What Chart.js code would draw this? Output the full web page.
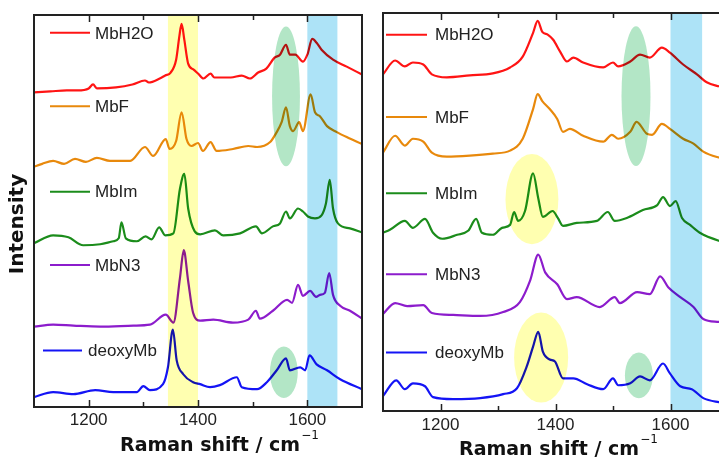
<!DOCTYPE html>
<html>
<head>
<meta charset="utf-8">
<script src="https://cdn.jsdelivr.net/npm/chart.js@4.4.0/dist/chart.umd.min.js"></script>
<style>
  body { margin: 0; background: #fff; overflow: hidden; width: 719px; height: 460px; position: relative; }
  #leftChart { position: absolute; left: 0; top: 0; }
  #rightChart { position: absolute; left: 370px; top: 0; }
</style>
</head>
<body>
<canvas id="leftChart" width="370" height="460"></canvas>
<canvas id="rightChart" width="370" height="460"></canvas>
<script>
// spectra: [Raman shift (cm-1), offset intensity]
const labels = ["MbH2O", "MbF", "MbIm", "MbN3", "deoxyMb"];
const colors = ["#ff1414", "#e8890c", "#1b8c1b", "#8c1ccc", "#1414f5"];
const xTicks = [1200, 1400, 1600];
const xTickMarks = [1200, 1300, 1400, 1500, 1600];

// left panel
const leftH2O = [[1100,317],[1130,318],[1160,319],[1180,319],[1200,321],[1208,325],[1215,321],[1250,322],[1280,325],[1303,329],[1310,327],[1330,331],[1340,334],[1350,337],[1360,350],[1366,374],[1370,386],[1375,370],[1382,346],[1392,340],[1400,336],[1410,331],[1423,336],[1430,332],[1460,332],[1480,334],[1495,331],[1510,337],[1525,341],[1540,352],[1550,355],[1561,365],[1568,355],[1578,355],[1592,348],[1600,355],[1609,371],[1617,367],[1626,360],[1647,350],[1672,343],[1700,335]];
const leftF = [[1100,242],[1115,245],[1135,248],[1155,245],[1175,250],[1195,247],[1215,251],[1239,248],[1276,248],[1303,262],[1318,253],[1341,270],[1348,260],[1360,268],[1370,297],[1379,270],[1388,263],[1400,266],[1409,258],[1423,267],[1434,258],[1464,260],[1492,263],[1508,262],[1532,267],[1544,277],[1553,287],[1561,302],[1568,283],[1574,278],[1585,287],[1592,278],[1606,315],[1614,297],[1623,293],[1636,283],[1654,277],[1672,272],[1700,265]];
const leftIm = [[1100,165],[1135,173],[1163,171],[1190,163],[1221,164],[1245,167],[1255,170],[1260,186],[1268,170],[1288,167],[1304,172],[1315,169],[1329,181],[1340,173],[1355,175],[1367,220],[1375,235],[1382,200],[1394,177],[1404,174],[1431,178],[1446,173],[1477,175],[1506,182],[1517,175],[1537,182],[1550,185],[1561,197],[1568,190],[1583,200],[1592,197],[1601,192],[1614,190],[1626,193],[1634,205],[1641,229],[1647,200],[1656,185],[1678,180],[1700,176]];
const leftN3 = [[1100,81],[1135,83],[1172,82],[1221,81],[1282,82],[1312,83],[1341,93],[1355,85],[1367,130],[1374,158],[1382,127],[1391,95],[1404,87],[1428,88],[1464,85],[1492,88],[1506,97],[1513,89],[1537,97],[1563,108],[1572,105],[1583,123],[1592,112],[1605,117],[1616,111],[1623,113],[1632,115],[1640,135],[1647,113],[1660,102],[1678,97],[1700,89]];
const leftDeoxy = [[1100,10],[1135,15],[1172,13],[1212,17],[1245,15],[1288,15],[1300,21],[1312,17],[1336,23],[1345,40],[1354,78],[1361,47],[1373,33],[1391,25],[1404,23],[1422,20],[1440,22],[1471,30],[1480,20],[1508,18],[1526,25],[1544,37],[1561,49],[1568,37],[1587,40],[1596,37],[1604,52],[1617,43],[1636,37],[1660,28],[1700,18]];

// right panel
const rightH2O = [[1100,340],[1121,354],[1138,348],[1152,352],[1170,350],[1185,340],[1211,337],[1251,339],[1291,341],[1321,347],[1343,358],[1361,382],[1369,394],[1377,383],[1387,380],[1396,375],[1408,363],[1420,353],[1431,357],[1448,352],[1483,347],[1500,352],[1509,348],[1530,353],[1547,360],[1564,357],[1585,367],[1599,362],[1622,350],[1646,340],[1663,332],[1684,328],[1700,326]];
const rightF = [[1100,261],[1121,278],[1138,268],[1152,275],[1170,272],[1185,261],[1211,257],[1251,258],[1291,260],[1321,263],[1343,275],[1361,305],[1369,320],[1377,313],[1390,305],[1403,295],[1413,282],[1425,285],[1448,278],[1483,272],[1498,279],[1509,275],[1530,282],[1541,292],[1559,280],[1568,279],[1585,290],[1599,285],[1622,275],[1640,270],[1657,262],[1684,256],[1700,254]];
const rightIm = [[1100,180],[1112,183],[1138,192],[1152,185],[1173,194],[1187,180],[1203,174],[1229,178],[1248,182],[1262,194],[1272,180],[1291,178],[1307,185],[1321,188],[1328,201],[1335,192],[1347,202],[1361,240],[1370,215],[1378,196],[1395,202],[1404,195],[1413,187],[1437,190],[1472,192],[1491,201],[1503,192],[1524,195],[1552,203],[1577,208],[1587,216],[1599,207],[1609,212],[1620,195],[1634,188],[1651,180],[1684,172],[1700,170]];
const rightN3 = [[1100,98],[1121,109],[1142,106],[1170,107],[1185,99],[1222,97],[1269,96],[1309,100],[1338,110],[1356,132],[1370,158],[1382,140],[1403,128],[1420,113],[1437,115],[1477,105],[1503,115],[1512,109],[1542,120],[1564,118],[1582,136],[1596,125],[1617,115],[1640,105],[1657,93],[1684,90],[1700,89]];
const rightDeoxy = [[1100,15],[1123,31],[1138,22],[1152,28],[1173,25],[1187,14],[1222,12],[1269,13],[1309,17],[1333,23],[1350,45],[1361,65],[1370,80],[1378,60],[1390,52],[1399,50],[1413,33],[1431,33],[1455,27],[1483,22],[1500,33],[1509,26],[1530,28],[1547,35],[1564,31],[1587,48],[1599,38],[1617,25],[1637,22],[1657,13],[1684,9],[1700,8]];

const leftLegendY = [377, 303, 217, 143, 57];
const rightLegendY = [380, 297, 220, 138, 59];

// highlighted regions (drawn with multiply, like the original)
const leftBands = [{ from: 1345, to: 1400, color: "#ffffb0" }, { from: 1600, to: 1655, color: "#ade3f7" }];
const leftEllipses = [
  { x: 1561, y: 313, rx: 25.5, ry: 70.5, color: "#b3e6c6" },
  { x: 1557, y: 35, rx: 25.5, ry: 26, color: "#b3e6c6" },
];
const rightBands = [{ from: 1600, to: 1655, color: "#ade3f7" }];
const rightEllipses = [
  { x: 1540, y: 318, rx: 25.2, ry: 70.5, color: "#b3e6c6" },
  { x: 1359, y: 214, rx: 46, ry: 45.5, color: "#ffffb0" },
  { x: 1375, y: 54, rx: 47, ry: 45.5, color: "#ffffb0" },
  { x: 1545, y: 36, rx: 24.3, ry: 23, color: "#b3e6c6" },
];

Chart.defaults.font.family = "'Liberation Sans', Arial, sans-serif";
Chart.defaults.color = "#222";

const makeDecor = (panel) => ({
  id: "decor",
  afterDatasetsDraw(chart) {
    const { ctx, chartArea: a, scales: { x, y } } = chart;
    ctx.save();
    ctx.beginPath();
    ctx.rect(a.left, a.top, a.right - a.left, a.bottom - a.top);
    ctx.clip();
    ctx.globalCompositeOperation = "multiply";
    panel.bands.forEach((b) => {
      const x1 = x.getPixelForValue(b.from), x2 = x.getPixelForValue(b.to);
      ctx.fillStyle = b.color;
      ctx.fillRect(x1, a.top, x2 - x1, a.bottom - a.top);
    });
    panel.ellipses.forEach((e) => {
      const cx = x.getPixelForValue(e.x), cy = y.getPixelForValue(e.y);
      const rx = x.getPixelForValue(e.x + e.rx) - cx;
      const ry = cy - y.getPixelForValue(e.y + e.ry);
      ctx.fillStyle = e.color;
      ctx.beginPath();
      ctx.ellipse(cx, cy, rx, ry, 0, 0, Math.PI * 2);
      ctx.fill();
    });
    ctx.restore();
  },
  afterDraw(chart) {
    const { ctx, chartArea: a, scales: { x, y } } = chart;
    ctx.save();
    // frame
    ctx.strokeStyle = "#222";
    ctx.lineWidth = 2;
    ctx.strokeRect(a.left, a.top, a.right - a.left, a.bottom - a.top);
    // inward ticks, top and bottom
    ctx.lineWidth = 1.5;
    xTickMarks.forEach((v) => {
      const px = Math.round(x.getPixelForValue(v)) + 0.5;
      const len = v % 200 === 0 ? 7 : 5;
      ctx.beginPath();
      ctx.moveTo(px, a.top); ctx.lineTo(px, a.top + len);
      ctx.moveTo(px, a.bottom); ctx.lineTo(px, a.bottom - len);
      ctx.stroke();
    });
    // legend entries next to each trace
    ctx.font = "17px 'Liberation Sans', Arial, sans-serif";
    ctx.textBaseline = "middle";
    labels.forEach((lab, i) => {
      const py = y.getPixelForValue(panel.legendY[i]);
      const l = panel.legend[i] || panel.legend.default;
      ctx.strokeStyle = colors[i];
      ctx.lineWidth = 2;
      ctx.beginPath();
      ctx.moveTo(a.left + l[0], py); ctx.lineTo(a.left + l[1], py);
      ctx.stroke();
      ctx.fillStyle = "#222";
      ctx.fillText(lab, a.left + l[2], py + 1);
    });
    // axis titles
    ctx.fillStyle = "#111";
    ctx.textBaseline = "alphabetic";
    ctx.font = "bold 19px 'DejaVu Sans', sans-serif";
    const tx = panel.titleX, ty = a.bottom + 44;
    const main = "Raman shift / cm";
    ctx.fillText(main, tx, ty);
    const w = ctx.measureText(main).width;
    ctx.font = "12px 'DejaVu Sans', sans-serif";
    ctx.fillText("\u22121", tx + w + 1, ty - 12);
    if (panel.yTitle) {
      ctx.translate(18, 224);
      ctx.rotate(-Math.PI / 2);
      ctx.font = "bold 20px 'DejaVu Sans', sans-serif";
      ctx.textAlign = "center";
      ctx.textBaseline = "middle";
      ctx.fillText(panel.yTitle, 0, 0);
    }
    ctx.restore();
  },
});

const renderSpectra = (canvasId, spectra, yMax, padding, tickPad, panel) => {
  const ctx = document.getElementById(canvasId).getContext("2d");
  return new Chart(ctx, {
    type: "line",
    data: {
      datasets: spectra.map((pts, i) => ({
        label: labels[i],
        data: pts.map(([x, y]) => ({ x, y })),
        borderColor: colors[i],
        borderWidth: 2.2,
        pointRadius: 0,
        cubicInterpolationMode: "monotone",
        fill: false,
      })),
    },
    options: {
      responsive: false,
      animation: false,
      layout: { padding },
      plugins: { legend: { display: false }, tooltip: { enabled: false } },
      scales: {
        x: {
          type: "linear",
          min: 1100,
          max: 1700,
          afterBuildTicks: (s) => { s.ticks = xTicks.map((v) => ({ value: v })); },
          grid: { display: false, drawTicks: false },
          border: { display: false },
          ticks: { padding: tickPad, font: { size: 17 }, color: "#222", callback: (v) => String(v) },
        },
        y: { display: false, min: 0, max: yMax },
      },
    },
    plugins: [makeDecor(panel)],
  });
};

renderSpectra("leftChart", [leftH2O, leftF, leftIm, leftN3, leftDeoxy], 395,
  { left: 34, right: 8, top: 15, bottom: 26.6 }, 3, {
    bands: leftBands, ellipses: leftEllipses, legendY: leftLegendY,
    legend: { default: [16, 56, 61], 4: [9, 48, 54] },
    titleX: 120, yTitle: "Intensity",
  });

renderSpectra("rightChart", [rightH2O, rightF, rightIm, rightN3, rightDeoxy], 402,
  { left: 13, right: 12, top: 13, bottom: 20.6 }, 4, {
    bands: rightBands, ellipses: rightEllipses, legendY: rightLegendY,
    legend: { default: [3, 44, 52] },
    titleX: 459 - 370, yTitle: null,
  });
</script>
</body>
</html>
